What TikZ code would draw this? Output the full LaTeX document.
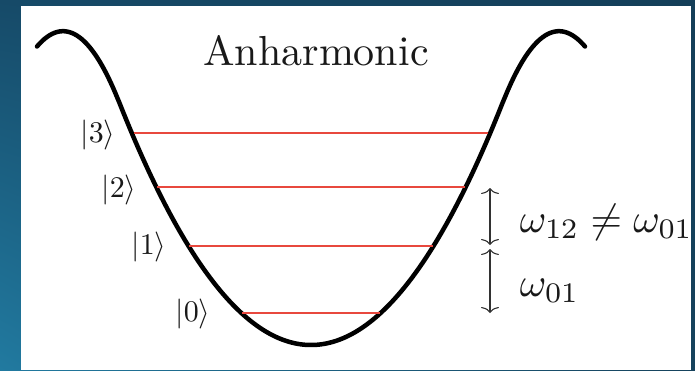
\documentclass[tikz,border=0pt]{standalone}
\usetikzlibrary{arrows.meta,shadings}
\definecolor{bgTL}{RGB}{22,74,104}
\definecolor{bgTR}{RGB}{20,62,88}
\definecolor{bgBL}{RGB}{33,122,160}
\definecolor{bgBR}{RGB}{22,66,92}
\definecolor{levelred}{RGB}{232,72,62}
\definecolor{arrowgray}{RGB}{50,50,50}
\definecolor{txt}{RGB}{25,25,25}
\tikzset{
  declare function={
    dd(\x)=abs(\x-311)/100;
    hw(\x)=(dd(\x)<1.92) ? (66*dd(\x)^2) : (243+253*(dd(\x)-1.92)-226*(dd(\x)-1.92)^2);
  },
  well/.style={line width=4.5pt, line cap=round, line join=round, black},
  level/.style={line width=2.4pt, levelred},
  ket/.style={font=\normalsize, scale=3.0, text=txt, inner sep=0pt},
  gap/.style={line width=1.1pt, arrowgray, {To[length=6pt,width=18pt]}-{To[length=6pt,width=18pt]}},
  wlabel/.style={font=\normalsize, scale=4.05, text=txt, inner sep=0pt, anchor=base west},
}
\begin{document}
\begin{tikzpicture}[x=1pt,y=-1pt]
\useasboundingbox (0,0) rectangle (695,370);
\shade[upper left=bgTL, upper right=bgTR, lower left=bgBL, lower right=bgBR] (0,0) rectangle (695,370);
\fill[white] (21,6) rectangle (691,370);

% potential well
\draw[well] plot[domain=37:585, samples=220, smooth] (\x, {345-hw(\x)});

% title
\node[font=\normalsize, scale=4.2, text=txt, inner sep=0pt, anchor=base] (title) at (316,65) {Anharmonic};

% energy levels
\coordinate (l3a) at (134,133); \coordinate (l3b) at (488,133);
\coordinate (l2a) at (157,187); \coordinate (l2b) at (465,187);
\coordinate (l1a) at (189,246); \coordinate (l1b) at (433,246);
\coordinate (l0a) at (242,313); \coordinate (l0b) at (380,313);
\draw[level] (l3a) -- (l3b);
\draw[level] (l2a) -- (l2b);
\draw[level] (l1a) -- (l1b);
\draw[level] (l0a) -- (l0b);

% ket labels
\node[ket] (k3) at (98,135) {$|3\rangle$};
\node[ket] (k2) at (119,190) {$|2\rangle$};
\node[ket] (k1) at (149,247) {$|1\rangle$};
\node[ket] (k0) at (193,314) {$|0\rangle$};

% spacing arrows
\coordinate (a1) at (490,188);
\coordinate (a2) at (490,245);
\coordinate (b1) at (490,249);
\coordinate (b2) at (490,313);
\draw[gap] (a1) -- (a2);
\draw[gap] (b1) -- (b2);

% frequency labels
\node[wlabel] (w12) at (519,232) {$\omega_{12}\neq\omega_{01}$};
\node[wlabel] (w01) at (519,296) {$\omega_{01}$};
\end{tikzpicture}
\end{document}
